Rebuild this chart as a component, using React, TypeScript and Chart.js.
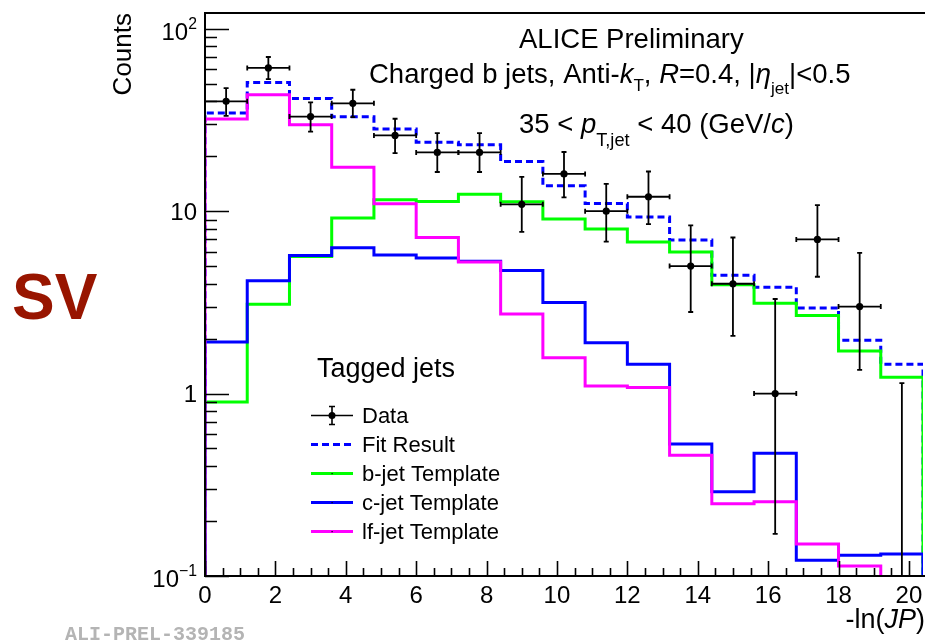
import React, { useEffect, useRef } from "react";
import { Chart, registerables } from "chart.js";

Chart.register(...registerables);

// ---- data ----
const binEdges = [0, 1.2, 2.4, 3.6, 4.8, 6.0, 7.2, 8.4, 9.6, 10.8, 12.0, 13.2, 14.4, 15.6, 16.8, 18.0, 19.2, 20.4];

const dataValues = [40, 61, 33, 39, 26, 21, 21, 10.9, 16, 10, 12, 5, 4, 1, 7, 3, null];
const dataLow = [33.3, 53, 27.3, 32.8, 20.8, 16.4, 16.4, 7.7, 11.9, 6.8, 8.5, 2.8, 2.07, 0.17, 4.37, 1.35, 0];
const dataHigh = [47.3, 70, 39.5, 46.3, 32.1, 26.8, 26.8, 15.4, 21.1, 14.1, 16.5, 8.35, 7.17, 3.3, 10.8, 5.9, 1.14];

const fitValues = [34.5, 50.8, 41.4, 32.9, 28.2, 23.9, 23.1, 18.7, 13.8, 11.0, 9.28, 6.94, 4.46, 3.83, 2.95, 1.96, 1.45];
const bJetValues = [0.9, 3.09, 5.64, 9.16, 11.55, 11.3, 12.4, 11.26, 9.05, 7.98, 6.77, 5.97, 3.95, 3.13, 2.68, 1.71, 1.23];
const cJetValues = [1.92, 4.15, 5.71, 6.3, 5.75, 5.53, 5.32, 4.73, 3.16, 1.9, 1.45, 0.53, 0.29, 0.471, 0.122, 0.13, 0.132];
const lfJetValues = [32.0, 43.5, 29.8, 17.4, 10.98, 7.17, 5.26, 2.73, 1.57, 1.1, 1.08, 0.459, 0.249, 0.255, 0.15, 0.1135, 0.08];

const legendHeader = "Tagged jets";
const legendLabels = ["Data", "Fit Result", "b-jet Template", "c-jet Template", "lf-jet Template"];

const xTickValues = [0, 2, 4, 6, 8, 10, 12, 14, 16, 18, 20];
const xTickLabels = ["0", "2", "4", "6", "8", "10", "12", "14", "16", "18", "20"];
const yTickValues = [0.1, 1, 10, 100];
const yTickBase = ["10", "1", "10", "10"];
const yTickExp = ["\u22121", "", "", "2"];

const X_MIN = 0;
const X_MAX = 20.4;
const Y_MIN = 0.1;
const Y_MAX = 122;

// ---- styles ----
const FONT = '"Liberation Sans", Arial, Helvetica, sans-serif';
const COL_FIT = "#0000ff";
const COL_B = "#00ff00";
const COL_C = "#0000ff";
const COL_LF = "#ff00ff";
const FLOOR = 1e-4;

const binCenters = binEdges.slice(0, -1).map((e, i) => (e + binEdges[i + 1]) / 2);

function histPoints(values: number[]) {
  const pts: { x: number; y: number }[] = [{ x: binEdges[0], y: FLOOR }];
  values.forEach((v, i) => pts.push({ x: binEdges[i], y: v }));
  const last = binEdges[binEdges.length - 1];
  pts.push({ x: last, y: values[values.length - 1] });
  pts.push({ x: last, y: FLOOR });
  return pts;
}

type Run = { t: string; it?: boolean; bold?: boolean; scale?: number; dy?: number };

function drawRuns(ctx: CanvasRenderingContext2D, x: number, y: number, runs: Run[], size: number, align: "left" | "right" = "left") {
  const fontOf = (r: Run) => `${r.it ? "italic " : ""}${r.bold ? "bold " : ""}${(size * (r.scale || 1)).toFixed(1)}px ${FONT}`;
  let w = 0;
  runs.forEach((r) => {
    ctx.font = fontOf(r);
    w += ctx.measureText(r.t).width;
  });
  let cx = align === "right" ? x - w : x;
  ctx.textAlign = "left";
  ctx.textBaseline = "alphabetic";
  runs.forEach((r) => {
    ctx.font = fontOf(r);
    ctx.fillText(r.t, cx, y + (r.dy || 0));
    cx += ctx.measureText(r.t).width;
  });
}

const overlayPlugin = {
  id: "rootOverlay",
  afterDatasetsDraw(chart: any) {
    const { ctx, chartArea } = chart;
    const xs = chart.scales.x;
    const ys = chart.scales.y;
    ctx.save();
    ctx.beginPath();
    ctx.rect(chartArea.left, chartArea.top, chartArea.right - chartArea.left, chartArea.bottom - chartArea.top);
    ctx.clip();
    ctx.strokeStyle = "#000";
    ctx.lineWidth = 1.8;
    const cap = 2.5;
    binCenters.forEach((c, i) => {
      const px = xs.getPixelForValue(c);
      const lo = dataLow[i] > 0 ? ys.getPixelForValue(dataLow[i]) : chartArea.bottom + 10;
      const hi = ys.getPixelForValue(dataHigh[i]);
      ctx.beginPath();
      ctx.moveTo(px, lo);
      ctx.lineTo(px, hi);
      ctx.moveTo(px - cap, hi);
      ctx.lineTo(px + cap, hi);
      ctx.moveTo(px - cap, lo);
      ctx.lineTo(px + cap, lo);
      const v = dataValues[i];
      if (v != null) {
        const py = ys.getPixelForValue(v);
        const xl = xs.getPixelForValue(binEdges[i]);
        const xr = xs.getPixelForValue(binEdges[i + 1]);
        ctx.moveTo(xl, py);
        ctx.lineTo(xr, py);
        ctx.moveTo(xl, py - cap);
        ctx.lineTo(xl, py + cap);
        ctx.moveTo(xr, py - cap);
        ctx.lineTo(xr, py + cap);
      }
      ctx.stroke();
    });
    ctx.restore();
  },
  afterDraw(chart: any) {
    const { ctx, chartArea } = chart;
    const xs = chart.scales.x;
    const ys = chart.scales.y;
    const { left, right, top, bottom } = chartArea;
    ctx.save();

    // frame
    ctx.strokeStyle = "#000";
    ctx.lineWidth = 2;
    ctx.beginPath();
    ctx.moveTo(right + 2, top);
    ctx.lineTo(left, top);
    ctx.lineTo(left, bottom);
    ctx.lineTo(right + 2, bottom);
    ctx.stroke();

    // y ticks
    ctx.lineWidth = 1.6;
    ctx.beginPath();
    for (let e = -1; e <= 2; e++) {
      for (let m = 1; m <= 9; m++) {
        const v = m * Math.pow(10, e);
        if (v < Y_MIN - 1e-9 || v > Y_MAX) continue;
        const py = Math.round(ys.getPixelForValue(v)) + 0.5;
        const len = m === 1 ? 24 : 12;
        ctx.moveTo(left, py);
        ctx.lineTo(left + len, py);
      }
    }
    // x ticks
    for (let k = 0; k * 0.5 <= X_MAX + 1e-9; k++) {
      const v = k * 0.5;
      const px = Math.round(xs.getPixelForValue(v)) + 0.5;
      const major = xTickValues.includes(v);
      ctx.moveTo(px, bottom);
      ctx.lineTo(px, bottom - (major ? 15 : 8));
    }
    ctx.stroke();

    // tick labels
    ctx.fillStyle = "#000";
    ctx.font = `24px ${FONT}`;
    ctx.textAlign = "center";
    ctx.textBaseline = "alphabetic";
    xTickValues.forEach((v, i) => {
      ctx.fillText(xTickLabels[i], xs.getPixelForValue(v), 603);
    });
    yTickValues.forEach((v, i) => {
      const py = ys.getPixelForValue(v);
      const exp = yTickExp[i];
      const runs: Run[] = [{ t: yTickBase[i] }];
      if (exp) runs.push({ t: exp, scale: 0.66, dy: -11 });
      drawRuns(ctx, 197, py + (exp ? 11 : 8.5), runs, 24, "right");
    });

    // axis titles
    ctx.save();
    ctx.translate(131, top);
    ctx.rotate(-Math.PI / 2);
    ctx.font = `26px ${FONT}`;
    ctx.textAlign = "right";
    ctx.textBaseline = "alphabetic";
    ctx.fillText("Counts", 0, 0);
    ctx.restore();
    drawRuns(ctx, 925, 628, [{ t: "-ln(" }, { t: "JP", it: true }, { t: ")" }], 27, "right");

    // annotations
    const S = 27.5;
    drawRuns(ctx, 519, 48, [{ t: "ALICE Preliminary" }], S);
    drawRuns(
      ctx,
      369,
      83,
      [
        { t: "Charged b jets, Anti-" },
        { t: "k", it: true },
        { t: "T", scale: 0.62, dy: 8 },
        { t: ", " },
        { t: "R", it: true },
        { t: "=0.4, |" },
        { t: "\u03b7", it: true },
        { t: "jet", scale: 0.62, dy: 11 },
        { t: "|<0.5" },
      ],
      S
    );
    drawRuns(
      ctx,
      519,
      133,
      [
        { t: "35 < " },
        { t: "p", it: true },
        { t: "T,jet", scale: 0.66, dy: 13 },
        { t: " < 40 (GeV/" },
        { t: "c", it: true },
        { t: ")" },
      ],
      S
    );

    // legend
    ctx.fillStyle = "#000";
    drawRuns(ctx, 317, 377, [{ t: legendHeader }], 27);
    const base = [423, 452, 481, 510, 539];
    const lineX0 = 311;
    const lineX1 = 353;
    base.forEach((b, i) => {
      const cy = b - 7.5;
      ctx.fillStyle = "#000";
      drawRuns(ctx, 362, b, [{ t: legendLabels[i] }], 22);
      ctx.setLineDash([]);
      if (i === 0) {
        ctx.strokeStyle = "#000";
        ctx.lineWidth = 1.6;
        ctx.beginPath();
        ctx.moveTo(lineX0, cy);
        ctx.lineTo(lineX1, cy);
        const mx = (lineX0 + lineX1) / 2;
        ctx.moveTo(mx, cy - 9);
        ctx.lineTo(mx, cy + 9);
        ctx.moveTo(mx - 3, cy - 9);
        ctx.lineTo(mx + 3, cy - 9);
        ctx.moveTo(mx - 3, cy + 9);
        ctx.lineTo(mx + 3, cy + 9);
        ctx.stroke();
        ctx.beginPath();
        ctx.arc(mx, cy, 3.5, 0, Math.PI * 2);
        ctx.fillStyle = "#000";
        ctx.fill();
      } else {
        const ds = chart.data.datasets.find((d: any) => d.label === legendLabels[i]);
        ctx.strokeStyle = ds.borderColor;
        ctx.lineWidth = 3;
        ctx.setLineDash(ds.borderDash || []);
        ctx.beginPath();
        ctx.moveTo(lineX0, cy);
        ctx.lineTo(lineX1, cy);
        ctx.stroke();
        ctx.setLineDash([]);
        if (i > 1) {
          ctx.fillStyle = "#000";
          ctx.fillRect((lineX0 + lineX1) / 2 - 0.5, cy - 0.5, 1.2, 1.2);
        }
      }
    });

    // side label
    ctx.fillStyle = "#981500";
    ctx.font = `bold 64px ${FONT}`;
    ctx.textAlign = "left";
    ctx.textBaseline = "alphabetic";
    ctx.fillText("SV", 12, 319);

    // preliminary id
    ctx.fillStyle = "#b4b4b4";
    ctx.font = `bold 20px "Liberation Mono", "Courier New", monospace`;
    ctx.fillText("ALI-PREL-339185", 65, 640);

    ctx.restore();
  },
};

export default function App() {
  const canvasRef = useRef<HTMLCanvasElement | null>(null);

  useEffect(() => {
    const canvas = canvasRef.current;
    if (!canvas) return;
    const hist = (label: string, values: number[], color: string, dash?: number[]) => ({
      label,
      data: histPoints(values),
      stepped: "before" as const,
      borderColor: color,
      borderWidth: 3,
      borderDash: dash || [],
      pointRadius: 0,
      fill: false,
    });
    const chart = new Chart(canvas, {
      type: "line",
      data: {
        datasets: [
          {
            label: "Data",
            data: binCenters.map((x, i) => ({ x, y: dataValues[i] })) as any,
            showLine: false,
            pointRadius: 3.6,
            pointBorderWidth: 0,
            pointBackgroundColor: "#000",
            borderColor: "#000",
          },
          hist("lf-jet Template", lfJetValues, COL_LF),
          hist("c-jet Template", cJetValues, COL_C),
          hist("b-jet Template", bJetValues, COL_B),
          hist("Fit Result", fitValues, COL_FIT, [7, 4]),
        ] as any,
      },
      options: {
        responsive: false,
        animation: false,
        events: [],
        layout: { padding: { left: 205, right: 0, top: 13, bottom: 66 } },
        plugins: { legend: { display: false }, tooltip: { enabled: false } },
        scales: {
          x: { type: "linear", min: X_MIN, max: X_MAX, display: false },
          y: { type: "logarithmic", min: Y_MIN, max: Y_MAX, display: false },
        },
      },
      plugins: [overlayPlugin],
    });
    return () => chart.destroy();
  }, []);

  return (
    <div style={{ position: "absolute", left: 0, top: 0, width: 927, height: 642, background: "#fff" }}>
      <canvas ref={canvasRef} width={927} height={642} style={{ display: "block" }} />
    </div>
  );
}
